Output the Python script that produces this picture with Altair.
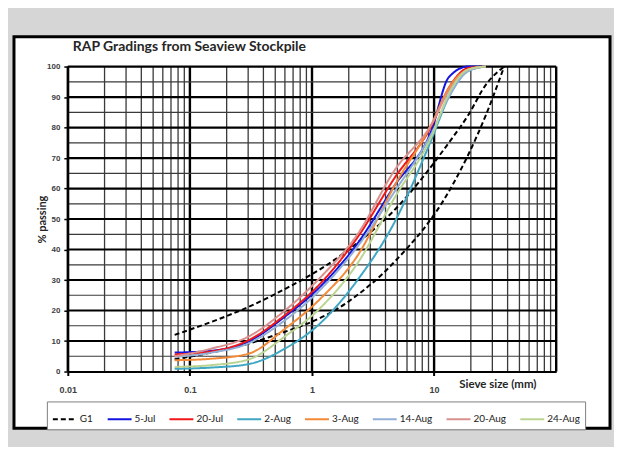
import altair as alt
import pandas as pd

# ---------------- data ----------------
sieve_mm = [0.075, 0.15, 0.3, 0.6, 1.18, 2.36, 4.75, 9.5, 13.2, 19.0, 26.5]
jul05 = [6.2, 6.8, 9.8, 18.0, 28.0, 42.0, 61.0, 79.0, 96.5, 100, 100]
jul20 = [5.6, 6.6, 10.2, 18.5, 29.0, 44.0, 63.5, 80.5, 93.0, 99.5, 100]
aug02 = [0.9, 1.3, 2.4, 7.5, 16.0, 30.0, 49.0, 76.0, 90.0, 98.5, 100]
aug03 = [3.7, 4.2, 5.8, 14.0, 24.0, 38.0, 61.0, 81.0, 93.0, 99.0, 100]
aug14 = [4.8, 6.2, 9.2, 16.8, 27.0, 41.0, 59.0, 78.0, 90.0, 98.5, 100]
aug20 = [5.0, 7.5, 11.4, 20.0, 31.0, 45.0, 66.0, 81.0, 92.0, 99.0, 100]
aug24 = [1.5, 2.1, 3.9, 11.5, 21.0, 35.5, 57.0, 77.0, 91.0, 99.0, 100]

g1_sieve = [0.075, 0.425, 2.0, 4.75, 13.2, 19.0, 26.5, 37.5]
g1_upper = [12, 24, 40, 53, 75, 84, 94, 100]
g1_lower = [4, 11, 23, 36, 59, 71, 84, 100]

series_names = ["G1", "5-Jul", "20-Jul", "2-Aug", "3-Aug", "14-Aug", "20-Aug", "24-Aug"]
series_colors = ["#000000", "#1414e0", "#f01818", "#3fa6c4", "#f28a38",
                 "#92afd6", "#d9908e", "#bcd491"]
series_dash = [[5, 3], [1, 0], [1, 0], [1, 0], [1, 0], [1, 0], [1, 0], [1, 0]]

x_major = [0.01, 0.1, 1, 10, 100]
x_minor = [0.02, 0.03, 0.04, 0.05, 0.06, 0.07, 0.08, 0.09,
           0.2, 0.3, 0.4, 0.5, 0.6, 0.7, 0.8, 0.9,
           2, 3, 4, 5, 6, 7, 8, 9,
           20, 30, 40, 50, 60, 70, 80, 90]
y_major = [10, 20, 30, 40, 50, 60, 70, 80, 90, 100]
y_minor = [5, 15, 25, 35, 45, 55, 65, 75, 85, 95]
x_tick_labels = [0.01, 0.1, 1, 10]
y_tick_labels = [0, 10, 20, 30, 40, 50, 60, 70, 80, 90, 100]

# ---------------- tables ----------------
rows = []
for s, v in zip(g1_sieve, g1_upper):
    rows.append({"sieve": s, "passing": v, "series": "G1", "curve": "G1 upper"})
for s, v in zip(g1_sieve, g1_lower):
    rows.append({"sieve": s, "passing": v, "series": "G1", "curve": "G1 lower"})
for name, vals in zip(series_names[1:], [jul05, jul20, aug02, aug03, aug14, aug20, aug24]):
    for s, v in zip(sieve_mm, vals):
        rows.append({"sieve": s, "passing": v, "series": name, "curve": name})
lines_df = pd.DataFrame(rows)

W, H = 490, 306
x_scale = alt.Scale(type="log", domain=[0.01, 100], nice=False)
y_scale = alt.Scale(domain=[0, 100], nice=False, zero=False)

x_axis = alt.Axis(
    values=x_tick_labels, format="~g", grid=False, domainColor="black", domainWidth=2,
    tickSize=4, tickColor="black", tickWidth=2, labelFont="Liberation Sans",
    labelFontSize=9, labelFontWeight="bold", labelColor="#404040", labelPadding=10,
    labelFlush=False, labelOverlap=False, zindex=2,
    title="Sieve size (mm)", titleFont="Lato", titleFontSize=11.5, titleFontWeight="bold",
    titleColor="#262626", titleX=431, titleY=13, titleAlign="center", titleBaseline="middle",
)
y_axis = alt.Axis(
    values=y_tick_labels, grid=False, domainColor="black", domainWidth=2,
    tickSize=4, tickColor="black", tickWidth=1.5, labelFont="Liberation Sans",
    labelFontSize=8, labelFontWeight="bold", labelColor="#404040", labelPadding=4,
    labelOverlap=False, zindex=2,
    title="% passing", titleFont="Lato", titleFontSize=11, titleFontWeight="bold",
    titleColor="#262626", titleX=-20, titleY=153, titleAlign="center",
    titleBaseline="bottom", titleAngle=270,
)

one = pd.DataFrame({"a": [0]})

frame = alt.Chart(one).mark_rect(fill="white", stroke="black", strokeWidth=3).encode(
    x=alt.value(-54), x2=alt.value(544), y=alt.value(-30), y2=alt.value(363)
)

title = alt.Chart(one).mark_text(
    align="left", baseline="alphabetic", font="Lato", fontSize=14,
    fontWeight="bold", color="#262626"
).encode(x=alt.value(5), y=alt.value(-16), text=alt.value("RAP Gradings from Seaview Stockpile"))

vminor = alt.Chart(pd.DataFrame({"sieve": x_minor})).mark_rule(color="#3a3a3a", strokeWidth=1.3).encode(
    x=alt.X("sieve:Q", scale=x_scale, axis=x_axis)
)
vmajor = alt.Chart(pd.DataFrame({"sieve": x_major})).mark_rule(color="black", strokeWidth=2.4).encode(
    x=alt.X("sieve:Q", scale=x_scale, axis=x_axis)
)
hminor = alt.Chart(pd.DataFrame({"passing": y_minor})).mark_rule(color="#3a3a3a", strokeWidth=1.2).encode(
    y=alt.Y("passing:Q", scale=y_scale, axis=y_axis)
)
hmajor = alt.Chart(pd.DataFrame({"passing": y_major})).mark_rule(color="black", strokeWidth=2.2).encode(
    y=alt.Y("passing:Q", scale=y_scale, axis=y_axis)
)

legend = alt.Legend(
    title=None, orient="none", legendX=-21, legendY=336, direction="horizontal",
    symbolType="stroke", symbolSize=576, symbolStrokeWidth=2, labelFont="Lato",
    labelFontSize=10, labelColor="#1a1a1a", columnPadding=10, labelOffset=2,
    padding=5, strokeColor="#7f7f7f", fillColor="white",
)

lines = alt.Chart(lines_df).mark_line(strokeWidth=2, interpolate="monotone").encode(
    x=alt.X("sieve:Q", scale=x_scale, axis=x_axis),
    y=alt.Y("passing:Q", scale=y_scale, axis=y_axis),
    color=alt.Color("series:N", scale=alt.Scale(domain=series_names, range=series_colors),
                    legend=legend, sort=series_names),
    strokeDash=alt.StrokeDash("series:N", scale=alt.Scale(domain=series_names, range=series_dash),
                              legend=legend, sort=series_names),
    detail="curve:N",
)

chart = alt.layer(frame, vminor, vmajor, hminor, hmajor, lines, title).properties(
    width=W, height=H,
    autosize=alt.AutoSizeParams(type="none"),
    padding={"left": 60, "top": 58, "right": 58, "bottom": 75},
).configure(background="#d6d6d6").configure_view(stroke=None)

chart.save("out.html", embed_options={"renderer": "svg", "actions": False})
